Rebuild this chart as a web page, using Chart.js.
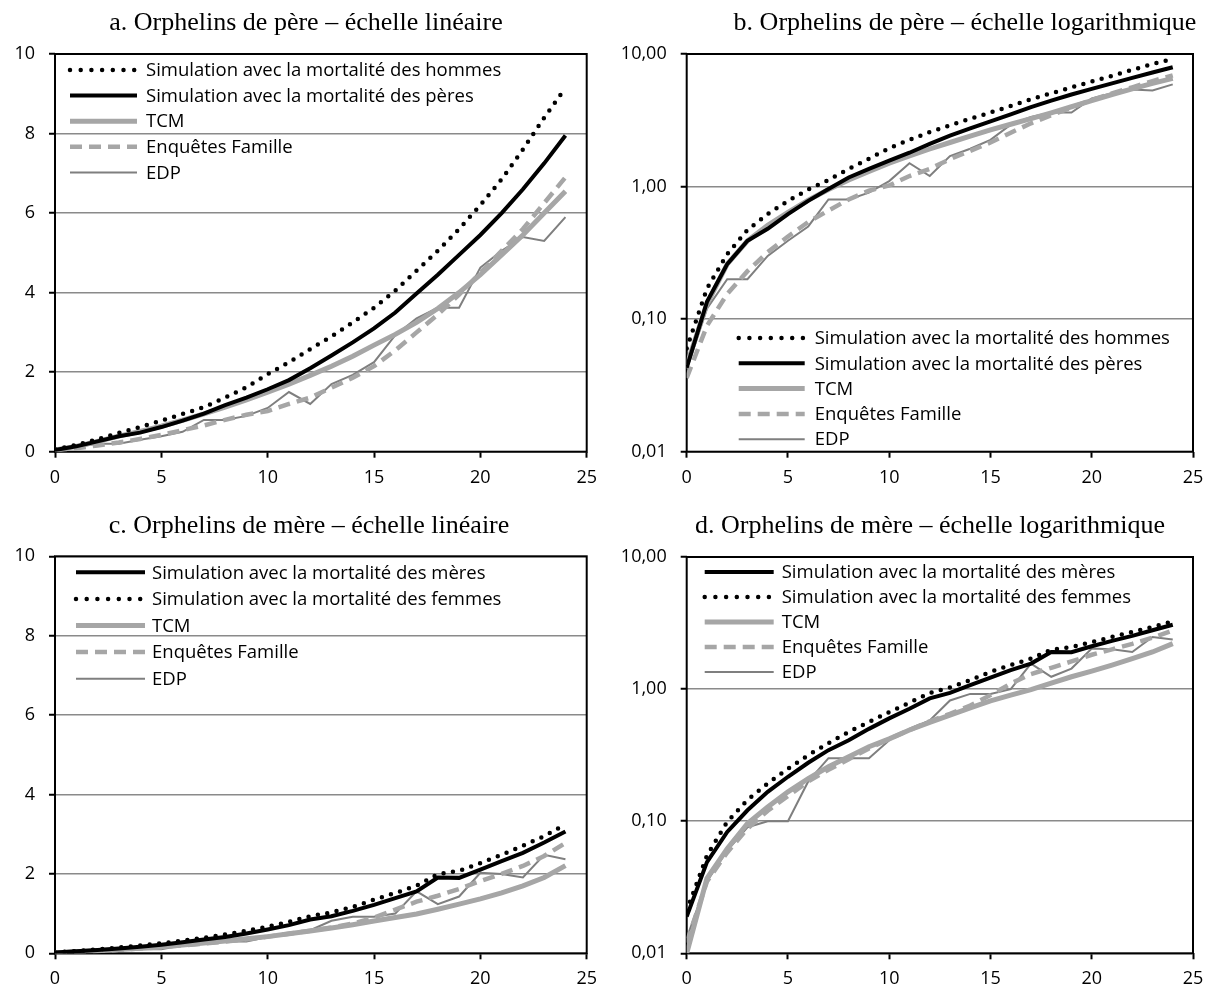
<!DOCTYPE html>
<html>
<head>
<meta charset="utf-8">
<script src="https://cdn.jsdelivr.net/npm/chart.js@4.4.0/dist/chart.umd.min.js"></script>
<style>
  body { margin: 0; background: #fff; width: 1213px; height: 991px; position: relative; overflow: hidden; }
  .panel { position: absolute; }
</style>
</head>
<body>
<div class="panel" style="left:0;top:0"><canvas id="chartA" width="606" height="495"></canvas></div>
<div class="panel" style="left:606px;top:0"><canvas id="chartB" width="607" height="495"></canvas></div>
<div class="panel" style="left:0;top:495px"><canvas id="chartC" width="606" height="496"></canvas></div>
<div class="panel" style="left:606px;top:495px"><canvas id="chartD" width="607" height="496"></canvas></div>
<script>
// ages 0 to 24
const ages = [0, 1, 2, 3, 4, 5, 6, 7, 8, 9, 10, 11, 12, 13, 14, 15, 16, 17, 18, 19, 20, 21, 22, 23, 24];

// orphelins de père (%)
const pereHommes = [0.06, 0.17, 0.31, 0.47, 0.62, 0.78, 0.95, 1.12, 1.36, 1.62, 1.95, 2.25, 2.58, 2.9, 3.25, 3.62, 4.05, 4.55, 5.05, 5.6, 6.2, 6.85, 7.6, 8.4, 9.15];
const perePeres = [0.043, 0.135, 0.26, 0.39, 0.48, 0.62, 0.78, 0.96, 1.17, 1.36, 1.57, 1.8, 2.1, 2.42, 2.75, 3.1, 3.5, 3.98, 4.45, 4.95, 5.45, 6.0, 6.6, 7.25, 7.95];
const pereTcm = [0.045, 0.13, 0.26, 0.39, 0.51, 0.64, 0.79, 0.95, 1.12, 1.3, 1.5, 1.7, 1.92, 2.15, 2.4, 2.68, 2.95, 3.25, 3.6, 4.0, 4.45, 4.95, 5.45, 6.0, 6.55];
const pereEnquetes = [0.036, 0.089, 0.155, 0.23, 0.32, 0.42, 0.54, 0.66, 0.8, 0.93, 1.02, 1.2, 1.36, 1.61, 1.86, 2.15, 2.55, 3.0, 3.45, 3.95, 4.5, 5.05, 5.6, 6.25, 6.9];
const pereEdp = [0.042, 0.12, 0.2, 0.2, 0.3, 0.39, 0.5, 0.8, 0.8, 0.9, 1.1, 1.5, 1.2, 1.7, 1.93, 2.25, 2.93, 3.35, 3.62, 3.62, 4.63, 5.05, 5.4, 5.3, 5.9];

// orphelins de mère (%)
const mereMeres = [0.019, 0.049, 0.083, 0.121, 0.167, 0.217, 0.277, 0.345, 0.41, 0.5, 0.6, 0.71, 0.85, 0.935, 1.07, 1.22, 1.39, 1.56, 1.91, 1.9, 2.11, 2.32, 2.53, 2.79, 3.07];
const mereFemmes = [0.021, 0.055, 0.099, 0.145, 0.193, 0.25, 0.316, 0.39, 0.474, 0.565, 0.67, 0.79, 0.935, 1.03, 1.17, 1.35, 1.52, 1.7, 1.99, 2.08, 2.27, 2.48, 2.71, 2.95, 3.25];
const mereTcm = [0.01, 0.037, 0.062, 0.096, 0.128, 0.167, 0.21, 0.258, 0.307, 0.366, 0.42, 0.49, 0.56, 0.635, 0.72, 0.815, 0.9, 0.99, 1.11, 1.24, 1.37, 1.52, 1.7, 1.91, 2.21];
const mereEnquetes = [0.012, 0.035, 0.058, 0.088, 0.12, 0.155, 0.2, 0.245, 0.295, 0.355, 0.42, 0.49, 0.57, 0.65, 0.75, 0.9, 1.1, 1.3, 1.45, 1.62, 1.82, 2.0, 2.2, 2.45, 2.78];
const mereEdp = [0.013, 0.035, 0.06, 0.09, 0.1, 0.1, 0.2, 0.3, 0.3, 0.3, 0.41, 0.5, 0.58, 0.82, 0.92, 0.92, 1.0, 1.56, 1.24, 1.43, 2.03, 2.0, 1.91, 2.48, 2.37];

const linTicks = [0, 2, 4, 6, 8, 10];
const logTicks = [0.01, 0.1, 1, 10];

Chart.defaults.font.family = "'Open Sans', sans-serif";
Chart.defaults.font.size = 18;
Chart.defaults.color = "#000";

const gridGray = "#8a8a8a";
const lightGray = "#a6a6a6";
const edpGray = "#7f7f7f";

function pts(vals) {
    return ages.map((a, i) => ({ x: a, y: vals[i] }));
}

const styles = {
    dotted: { borderColor: "#000", borderWidth: 4.5, borderDash: [0, 9.5], borderCapStyle: "round", legendDash: [0, 10.7] },
    solid: { borderColor: "#000", borderWidth: 4 },
    tcm: { borderColor: lightGray, borderWidth: 5 },
    enq: { borderColor: lightGray, borderWidth: 4.5, borderDash: [12, 7] },
    edp: { borderColor: edpGray, borderWidth: 2 },
};

function pereSets() {
    return [
        { label: "Simulation avec la mortalité des hommes", data: pts(pereHommes), ...styles.dotted },
        { label: "Simulation avec la mortalité des pères", data: pts(perePeres), ...styles.solid },
        { label: "TCM", data: pts(pereTcm), ...styles.tcm },
        { label: "Enquêtes Famille", data: pts(pereEnquetes), ...styles.enq },
        { label: "EDP", data: pts(pereEdp), ...styles.edp },
    ];
}

function mereSets() {
    return [
        { label: "Simulation avec la mortalité des mères", data: pts(mereMeres), ...styles.solid },
        { label: "Simulation avec la mortalité des femmes", data: pts(mereFemmes), ...styles.dotted },
        { label: "TCM", data: pts(mereTcm), ...styles.tcm },
        { label: "Enquêtes Famille", data: pts(mereEnquetes), ...styles.enq },
        { label: "EDP", data: pts(mereEdp), ...styles.edp },
    ];
}

// frame, title and in-plot legend
const panelDeco = {
    id: "panelDeco",
    beforeDatasetsDraw(chart, args, opts) {
        const { ctx, chartArea: a } = chart;
        ctx.save();
        ctx.strokeStyle = "#000";
        ctx.lineWidth = 2;
        ctx.strokeRect(a.left, a.top, a.right - a.left, a.bottom - a.top);
        ctx.restore();
    },
    afterDraw(chart, args, opts) {
        const { ctx, chartArea: a } = chart;
        ctx.save();
        ctx.fillStyle = "#000";
        ctx.font = '26px "Liberation Serif", "Times New Roman", serif';
        ctx.textAlign = "center";
        ctx.textBaseline = "alphabetic";
        ctx.fillText(opts.title, opts.titleX, opts.titleY);

        ctx.font = "18.5px 'Open Sans', sans-serif";
        ctx.textAlign = "left";
        ctx.textBaseline = "middle";
        chart.data.datasets.forEach((ds, i) => {
            const y = a.top + opts.legendY + i * opts.rowStep;
            ctx.save();
            ctx.strokeStyle = ds.borderColor;
            ctx.lineWidth = ds.borderWidth;
            ctx.lineCap = ds.borderCapStyle || "butt";
            ctx.setLineDash(ds.legendDash || ds.borderDash || []);
            ctx.beginPath();
            ctx.moveTo(a.left + opts.sampleX, y);
            ctx.lineTo(a.left + opts.sampleX + opts.sampleLen, y);
            ctx.stroke();
            ctx.restore();
            ctx.fillText(ds.label, a.left + opts.textX, y + 1);
        });
        ctx.restore();
    },
};

function makePanel(id, p) {
    const canvas = document.getElementById(id);
    const yAxis = p.log
        ? {
              type: "logarithmic",
              min: 0.01,
              max: 10,
              afterBuildTicks: (s) => { s.ticks = logTicks.map((v) => ({ value: v })); },
              ticks: { padding: 14, callback: (v) => Number(v).toFixed(2).replace(".", ",") },
          }
        : {
              type: "linear",
              min: 0,
              max: 10,
              afterBuildTicks: (s) => { s.ticks = linTicks.map((v) => ({ value: v })); },
              ticks: { padding: 14 },
          };
    yAxis.grid = { color: gridGray, lineWidth: 1.5, tickColor: "#000", tickWidth: 2, tickLength: 6 };
    yAxis.border = { display: false };
    yAxis.afterFit = (s) => { s.width = p.left; };

    return new Chart(canvas, {
        type: "line",
        data: { datasets: p.datasets },
        options: {
            responsive: false,
            animation: false,
            events: [],
            layout: { padding: { top: p.top, right: canvas.width - p.right, left: 0, bottom: 0 } },
            elements: { point: { radius: 0 }, line: { tension: 0 } },
            scales: {
                x: {
                    type: "linear",
                    min: 0,
                    max: 25,
                    ticks: { stepSize: 5, padding: 9, maxRotation: 0 },
                    grid: { drawOnChartArea: false, tickColor: "#000", tickWidth: 2, tickLength: 6 },
                    border: { display: false },
                    afterFit: (s) => { s.height = canvas.height - p.bottom; },
                },
                y: yAxis,
            },
            plugins: {
                legend: { display: false },
                tooltip: { enabled: false },
                panelDeco: p.deco,
            },
        },
        plugins: [panelDeco],
    });
}

makePanel("chartA", {
    left: 55, top: 54, right: 588, bottom: 451.7, log: false, datasets: pereSets(),
    deco: { title: "a. Orphelins de père – échelle linéaire", titleX: 306, titleY: 30,
            sampleX: 15, sampleLen: 67, textX: 91, legendY: 16, rowStep: 25.6 },
});

makePanel("chartB", {
    left: 80.7, top: 54, right: 587, bottom: 451.7, log: true, datasets: pereSets(),
    deco: { title: "b. Orphelins de père – échelle logarithmique", titleX: 359, titleY: 30,
            sampleX: 52, sampleLen: 66, textX: 128, legendY: 284, rowStep: 25.3 },
});

makePanel("chartC", {
    left: 55, top: 61.3, right: 588, bottom: 458.3, log: false, datasets: mereSets(),
    deco: { title: "c. Orphelins de mère – échelle linéaire", titleX: 309, titleY: 38,
            sampleX: 21, sampleLen: 69, textX: 97, legendY: 16, rowStep: 26.6 },
});

makePanel("chartD", {
    left: 80.7, top: 62, right: 587, bottom: 458.3, log: true, datasets: mereSets(),
    deco: { title: "d. Orphelins de mère – échelle logarithmique", titleX: 324, titleY: 38,
            sampleX: 18, sampleLen: 69, textX: 95, legendY: 15, rowStep: 25 },
});
</script>
</body>
</html>
